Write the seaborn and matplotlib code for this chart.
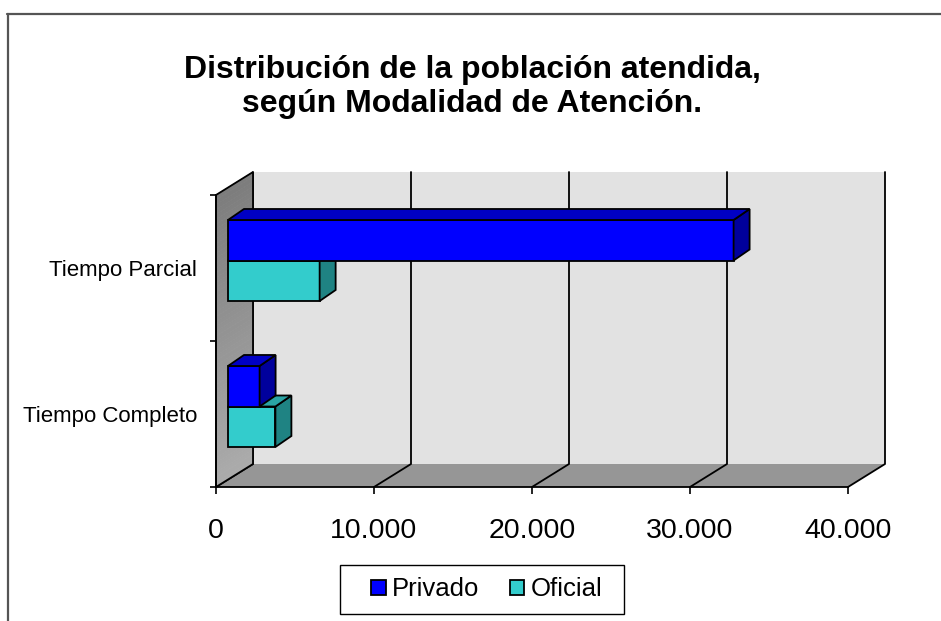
import matplotlib
matplotlib.use("Agg")
import matplotlib.pyplot as plt
import matplotlib.ticker as ticker
import matplotlib.transforms as transforms
from matplotlib.patches import Polygon, Rectangle
from matplotlib.lines import Line2D
from matplotlib.collections import PolyCollection
from matplotlib.colors import LinearSegmentedColormap
import numpy as np
import pandas as pd
import seaborn as sns

categorias = ["Tiempo Parcial", "Tiempo Completo"]
sectores = ["Privado", "Oficial"]
privado = [32000, 2000]
oficial = [5800, 3000]
xticks = [0, 10000, 20000, 30000, 40000]
titulo = "Distribución de la población atendida,\nsegún Modalidad de Atención."

colores = {"Privado": "#0000ff", "Oficial": "#33cccc"}
lados = {"Privado": "#00009c", "Oficial": "#1f8383"}
techos = {"Privado": "#0000c4", "Oficial": "#2aa5a5"}

df = pd.DataFrame({
    "modalidad": categorias * 2,
    "sector": ["Privado"] * len(privado) + ["Oficial"] * len(oficial),
    "poblacion": privado + oficial,
})

sns.set_style("white")
plt.rcParams["font.family"] = ["Liberation Sans", "DejaVu Sans"]
plt.rcParams["text.color"] = "black"
plt.rcParams["xtick.color"] = "black"
plt.rcParams["ytick.color"] = "black"
plt.rcParams["xtick.labelcolor"] = "black"
plt.rcParams["ytick.labelcolor"] = "black"

W, H = 941, 621
fig = plt.figure(figsize=(W / 100, H / 100), dpi=100)
ax = fig.add_axes([216 / W, 1 - 487 / H, 632 / W, 292 / H])

# profundidad del "3D" en pixeles -> fracciones de ejes
dxa, dya = 37 / 632, 23 / 292

sns.barplot(data=df, x="poblacion", y="modalidad", hue="sector",
            order=categorias, hue_order=sectores, palette=colores,
            orient="h", width=0.555, saturation=1, edgecolor="black",
            linewidth=1.3, legend=False, ax=ax)

xmax = 40000
sx = xmax / 632      # datos por pixel en x
sy = 2 / 292         # datos por pixel en y

# caras frontales desplazadas hacia el fondo, luego lateral y techo
desplaz = ax.transData + transforms.ScaledTranslation(0.12, 0.075, fig.dpi_scale_trans)
ddx, ddy = 16 * sx, -11 * sy
for cont, sector, z in zip(ax.containers, sectores, [6, 5]):
    for p in cont:
        p.set_transform(desplaz)
        p.set_zorder(z)
        x0, y0 = p.get_x(), p.get_y()
        x1, y1 = x0 + p.get_width(), y0 + p.get_height()
        lado = Polygon([(x1, y0), (x1, y1), (x1 + ddx, y1 + ddy), (x1 + ddx, y0 + ddy)],
                       fc=lados[sector], ec="black", lw=1.3, transform=desplaz,
                       zorder=z, clip_on=False)
        techo = Polygon([(x0, y0), (x1, y0), (x1 + ddx, y0 + ddy), (x0 + ddx, y0 + ddy)],
                        fc=techos[sector], ec="black", lw=1.3, transform=desplaz,
                        zorder=z, clip_on=False)
        ax.add_patch(lado)
        ax.add_patch(techo)

# pared del fondo, piso y pared izquierda
ax.add_patch(Rectangle((dxa, dya), 1, 1, transform=ax.transAxes, fc="#e2e2e2",
                       ec="none", clip_on=False, zorder=0.5))
ax.add_patch(Polygon([(0, 0), (1, 0), (1 + dxa, dya), (dxa, dya)], transform=ax.transAxes,
                     fc="#969696", ec="none", clip_on=False, zorder=0.6))
for v in xticks:
    f = v / xmax
    ax.plot([f, f + dxa, f + dxa], [0, dya, 1 + dya], transform=ax.transAxes,
            color="black", lw=1.3, clip_on=False, zorder=0.8)

# degradado de la pared izquierda en franjas
grises = LinearSegmentedColormap.from_list("grises", ["#ababab", "#7c7c7c"])
t = np.linspace(0, 1, 61)
franjas = [[(0, a), (dxa, dya + a), (dxa, dya + b), (0, b)] for a, b in zip(t[:-1], t[1:])]
ax.add_collection(PolyCollection(franjas, facecolors=grises(t[:-1]), edgecolors=grises(t[:-1]),
                                 linewidths=0.5, transform=ax.transAxes, clip_on=False,
                                 zorder=0.9))
ax.add_patch(Polygon([(0, 0), (dxa, dya), (dxa, 1 + dya), (0, 1)], transform=ax.transAxes,
                     fc="none", ec="black", lw=1.3, clip_on=False, zorder=1))

ax.set_xlim(0, xmax)
ax.set_ylim(1.5, -0.5)
ax.set_xlabel("")
ax.set_ylabel("")

for s in ["top", "right"]:
    ax.spines[s].set_visible(False)
for s in ["left", "bottom"]:
    ax.spines[s].set_color("black")
    ax.spines[s].set_linewidth(1.3)

ax.set_xticks(xticks)
ax.xaxis.set_major_formatter(ticker.FuncFormatter(lambda v, _: f"{v:,.0f}".replace(",", ".")))
ax.tick_params(axis="x", bottom=True, length=5, width=1.2, color="black",
               direction="out", pad=17.5, labelsize=20.5)
ax.set_yticks([-0.5, 0.5, 1.5], minor=True)
ax.tick_params(axis="y", which="minor", left=True, length=4, width=1.2, color="black")
ax.tick_params(axis="y", which="major", length=0, pad=13.5, labelsize=16)

fig.text(472 / W, 1 - 87 / H, titulo, ha="center", va="center", fontsize=23,
         fontweight="bold", linespacing=1.15, color="black")

# leyenda
handles = [Rectangle((0, 0), 1, 1, fc=colores[s], ec="black", lw=1.3) for s in sectores]
fig.legend(handles, sectores, loc="center", bbox_to_anchor=(487 / W, 1 - 589.5 / H),
           ncol=2, frameon=False, fontsize=18.5, handlelength=0.55, handleheight=0.55,
           handletextpad=0.25, columnspacing=1.2, labelcolor="black")
fig.add_artist(Rectangle((340 / W, 1 - 614 / H), 284 / W, 49 / H, transform=fig.transFigure,
                         fill=False, ec="black", lw=1.0))

# marco exterior
fig.add_artist(Line2D([7 / W, 1], [1 - 14 / H, 1 - 14 / H], color="#555555", lw=1.6))
fig.add_artist(Line2D([7.5 / W, 7.5 / W], [0, 1 - 14 / H], color="#555555", lw=1.6))

fig.savefig("out.png", dpi=100)
